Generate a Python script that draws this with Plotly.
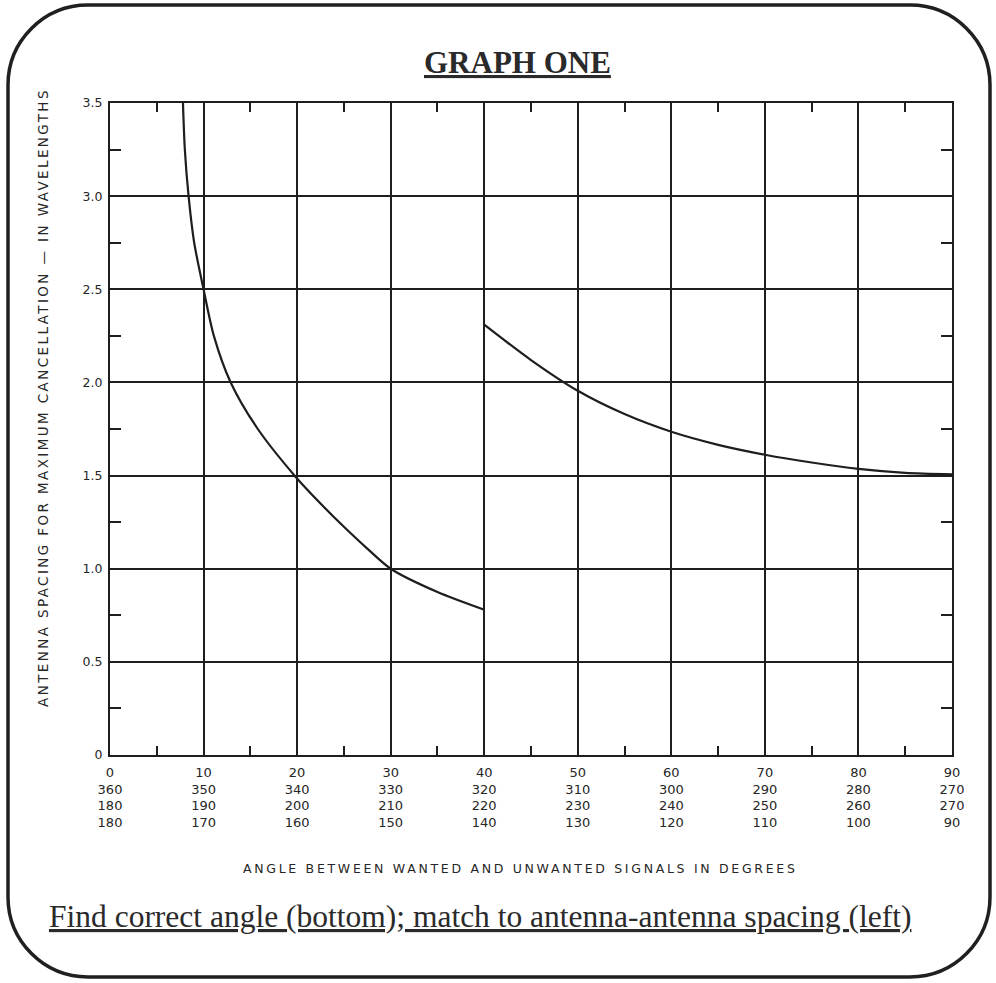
import plotly.graph_objects as go

# ---------------- data ----------------
angle_lo = [7.8, 8.0, 8.4, 9.0, 10.0, 11.1, 12.9, 15.8, 19.9, 22.5, 25.0, 27.5, 30.0, 35.0, 40.0]
spacing_lo = [3.5, 3.25, 3.0, 2.75, 2.5, 2.25, 2.0, 1.75, 1.49, 1.35, 1.225, 1.108, 1.0, 0.875, 0.78]

angle_hi = [40, 45, 50, 55, 60, 65, 70, 75, 80, 85, 90]
spacing_hi = [2.31, 2.12, 1.955, 1.83, 1.735, 1.665, 1.612, 1.57, 1.536, 1.515, 1.507]

x_tickvals = [0, 10, 20, 30, 40, 50, 60, 70, 80, 90]
x_row1 = ["0", "10", "20", "30", "40", "50", "60", "70", "80", "90"]
x_row2 = ["360", "350", "340", "330", "320", "310", "300", "290", "280", "270"]
x_row3 = ["180", "190", "200", "210", "220", "230", "240", "250", "260", "270"]
x_row4 = ["180", "170", "160", "150", "140", "130", "120", "110", "100", "90"]

y_tickvals = [0, 0.5, 1.0, 1.5, 2.0, 2.5, 3.0, 3.5]
y_ticktext = ["0", "0.5", "1.0", "1.5", "2.0", "2.5", "3.0", "3.5"]

x_minor = [5, 15, 25, 35, 45, 55, 65, 75, 85]
y_minor = [0.25, 0.75, 1.25, 1.75, 2.25, 2.75, 3.25]

title_text = "GRAPH ONE"
caption_text = "Find correct angle (bottom); match to antenna-antenna spacing (left)"
x_title = "ANGLE BETWEEN WANTED AND UNWANTED SIGNALS IN DEGREES"
y_title = "ANTENNA SPACING FOR MAXIMUM CANCELLATION — IN WAVELENGTHS"

# ---------------- layout geometry (pixels) ----------------
W, H = 996, 983
L, R, T, B = 110, 952, 103, 755
INK = "#1e1e1e"
LBL = "#262626"


def px(xp):
    return (xp - L) / (R - L)


def py(yp):
    return (B - yp) / (B - T)


x_ticktext = ["<br>".join(r) for r in zip(x_row1, x_row2, x_row3, x_row4)]

fig = go.Figure()
for xs, ys in ((angle_lo, spacing_lo), (angle_hi, spacing_hi)):
    fig.add_trace(go.Scatter(x=xs, y=ys, mode="lines",
                             line=dict(color=INK, width=2.2, shape="spline", smoothing=0.8),
                             hoverinfo="skip", showlegend=False))

axis_common = dict(showline=True, linecolor=INK, linewidth=2, mirror="ticks",
                   showgrid=True, gridcolor=INK, gridwidth=1.6, zeroline=False,
                   ticks="inside", ticklen=1, tickcolor=INK, tickwidth=1)

fig.update_xaxes(range=[0, 90], tickmode="array", tickvals=x_tickvals, ticktext=x_ticktext,
                 tickfont=dict(family="DejaVu Sans", size=13, color=LBL),
                 ticklabelstandoff=4,
                 minor=dict(tickmode="array", tickvals=x_minor, ticks="inside", ticklen=9,
                            tickcolor=INK, tickwidth=1.6, showgrid=False),
                 **axis_common)
fig.update_yaxes(range=[0, 3.5], tickmode="array", tickvals=y_tickvals, ticktext=y_ticktext,
                 tickfont=dict(family="DejaVu Sans", size=12.5, color=LBL),
                 ticklabelstandoff=3,
                 minor=dict(tickmode="array", tickvals=y_minor, ticks="inside", ticklen=11,
                            tickcolor=INK, tickwidth=1.6, showgrid=False),
                 **axis_common)

# rounded border
x0, y0, x1, y1, r = 8, 5, 990, 977, 80
k = 0.5523 * r
pts = [
    ("M", [(x0 + r, y0)]),
    ("L", [(x1 - r, y0)]),
    ("C", [(x1 - r + k, y0), (x1, y0 + r - k), (x1, y0 + r)]),
    ("L", [(x1, y1 - r)]),
    ("C", [(x1, y1 - r + k), (x1 - r + k, y1), (x1 - r, y1)]),
    ("L", [(x0 + r, y1)]),
    ("C", [(x0 + r - k, y1), (x0, y1 - r + k), (x0, y1 - r)]),
    ("L", [(x0, y0 + r)]),
    ("C", [(x0, y0 + r - k), (x0 + r - k, y0), (x0 + r, y0)]),
]
path = " ".join(cmd + " " + " ".join(f"{px(a):.5f},{py(b):.5f}" for a, b in p) for cmd, p in pts) + " Z"
fig.add_shape(type="path", path=path, xref="paper", yref="paper",
              line=dict(color="#202020", width=3.5), layer="above")

annots = [
    dict(text="<b><u>" + title_text + "</u></b>", x=px(517), y=py(62),
         font=dict(family="Liberation Serif", size=31, color="#2a2a2a")),
    dict(text="<u>" + caption_text + "</u>", x=px(480), y=py(916),
         font=dict(family="Liberation Serif", size=31.5, color="#2a2a2a")),
    dict(text='<span style="letter-spacing:2.7px">' + x_title + "</span>", x=px(520), y=py(868),
         font=dict(family="DejaVu Sans", size=12.5, color=LBL)),
    dict(text='<span style="letter-spacing:2.4px">' + y_title + "</span>", x=px(43), y=py(398),
         textangle=-90, font=dict(family="DejaVu Sans", size=13.5, color=LBL)),
]
for a in annots:
    fig.add_annotation(xref="paper", yref="paper", showarrow=False,
                       xanchor="center", yanchor="middle", **a)

fig.update_layout(width=W, height=H, margin=dict(l=L, r=W - R, t=T, b=H - B),
                  paper_bgcolor="white", plot_bgcolor="white", showlegend=False)

fig.write_html("out.html", config={"displayModeBar": False},
               post_script="document.body.style.margin='0';document.body.style.overflow='hidden';")
